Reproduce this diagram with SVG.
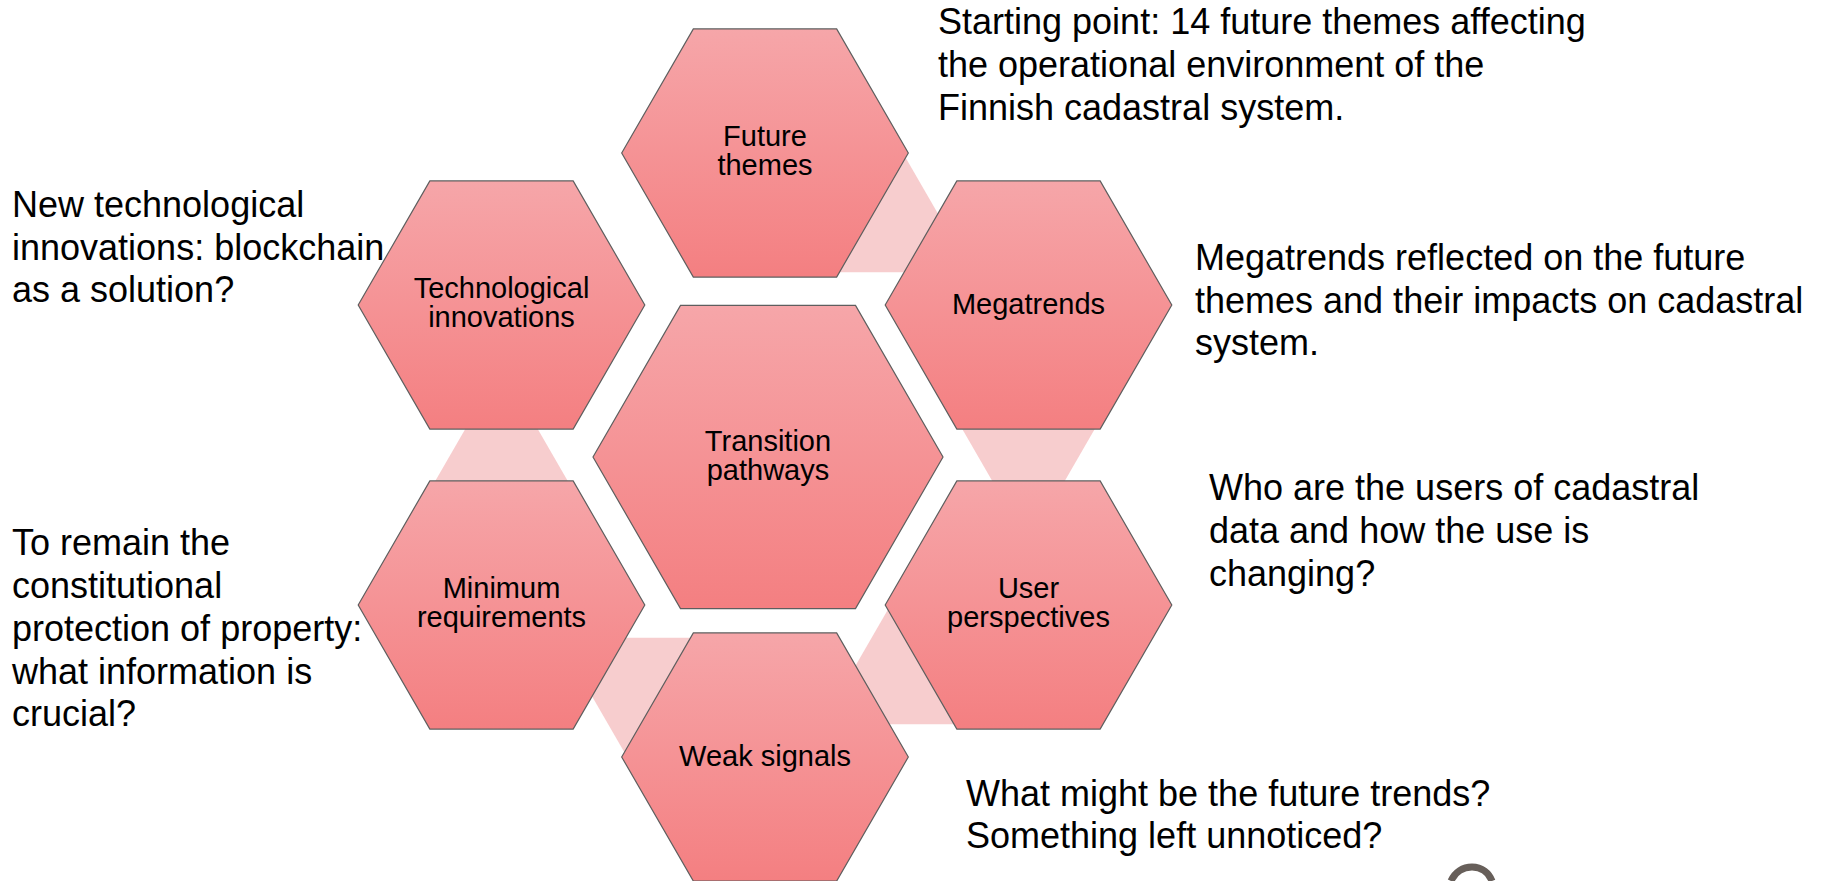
<svg xmlns="http://www.w3.org/2000/svg" xmlns:xlink="http://www.w3.org/1999/xlink" width="1823" height="881" viewBox="0 0 1823 881">
  <style>
    .hex { fill: url(#hexGrad); stroke: #5e5e5e; stroke-width: 1.2; }
    .link { fill: #f7cdce; stroke: none; }
    .lbl { font-family: "Liberation Sans", Arial, sans-serif; font-size: 29px; fill: #000; text-anchor: middle; }
    .note { font-family: "Liberation Sans", Arial, sans-serif; font-size: 36px; fill: #000; }
  </style>
  <defs>
    <linearGradient id="hexGrad" x1="0" y1="0" x2="0" y2="1">
      <stop offset="0" stop-color="#f6a6a9"/>
      <stop offset="1" stop-color="#f47f81"/>
    </linearGradient>
    <polygon id="hexS" points="-143.3,0 -71.65,-124.1 71.65,-124.1 143.3,0 71.65,124.1 -71.65,124.1"/>
    <polygon id="hexL" points="-175,0 -87.5,-151.55 87.5,-151.55 175,0 87.5,151.55 -87.5,151.55"/>
  </defs>
  <rect width="1823" height="881" fill="#ffffff"/>

  <g id="connectors">
    <polygon class="link" points="805.81,272.36 888.77,128.58 971.85,272.33"/>
    <polygon class="link" points="945.5,400 1111.5,400 1028.5,543.8"/>
    <polygon class="link" points="987.69,724.36 904.73,580.58 821.65,724.33"/>
    <polygon class="link" points="724.19,637.64 641.23,781.42 558.15,637.67"/>
    <polygon class="link" points="418.5,510 584.5,510 501.5,366.2"/>
  </g>

  <g id="node-future-themes">
    <use xlink:href="#hexS" href="#hexS" class="hex" transform="translate(765,153)"/>
    <text class="lbl" x="765" y="146">Future</text>
    <text class="lbl" x="765" y="175">themes</text>
  </g>
  <g id="node-megatrends">
    <use xlink:href="#hexS" href="#hexS" class="hex" transform="translate(1028.5,305)"/>
    <text class="lbl" x="1028.5" y="314">Megatrends</text>
  </g>
  <g id="node-user-perspectives">
    <use xlink:href="#hexS" href="#hexS" class="hex" transform="translate(1028.5,605)"/>
    <text class="lbl" x="1028.5" y="598">User</text>
    <text class="lbl" x="1028.5" y="627">perspectives</text>
  </g>
  <g id="node-weak-signals">
    <use xlink:href="#hexS" href="#hexS" class="hex" transform="translate(765,757)"/>
    <text class="lbl" x="765" y="766">Weak signals</text>
  </g>
  <g id="node-minimum-requirements">
    <use xlink:href="#hexS" href="#hexS" class="hex" transform="translate(501.5,605)"/>
    <text class="lbl" x="501.5" y="598">Minimum</text>
    <text class="lbl" x="501.5" y="627">requirements</text>
  </g>
  <g id="node-technological-innovations">
    <use xlink:href="#hexS" href="#hexS" class="hex" transform="translate(501.5,305)"/>
    <text class="lbl" x="501.5" y="298">Technological</text>
    <text class="lbl" x="501.5" y="327">innovations</text>
  </g>
  <g id="node-transition-pathways">
    <use xlink:href="#hexL" href="#hexL" class="hex" transform="translate(768,457)"/>
    <text class="lbl" x="768" y="451">Transition</text>
    <text class="lbl" x="768" y="480">pathways</text>
  </g>

  <g id="notes">
    <text class="note">
      <tspan x="938" y="34">Starting point: 14 future themes affecting</tspan>
      <tspan x="938" y="77">the operational environment of the</tspan>
      <tspan x="938" y="120">Finnish cadastral system.</tspan>
    </text>
    <text class="note">
      <tspan x="12" y="217">New technological</tspan>
      <tspan x="12" y="260">innovations: blockchain</tspan>
      <tspan x="12" y="302">as a solution?</tspan>
    </text>
    <text class="note">
      <tspan x="1195" y="270">Megatrends reflected on the future</tspan>
      <tspan x="1195" y="313">themes and their impacts on cadastral</tspan>
      <tspan x="1195" y="355">system.</tspan>
    </text>
    <text class="note">
      <tspan x="1209" y="500">Who are the users of cadastral</tspan>
      <tspan x="1209" y="543">data and how the use is</tspan>
      <tspan x="1209" y="586">changing?</tspan>
    </text>
    <text class="note">
      <tspan x="12" y="555">To remain the</tspan>
      <tspan x="12" y="598">constitutional</tspan>
      <tspan x="12" y="641">protection of property:</tspan>
      <tspan x="12" y="684">what information is</tspan>
      <tspan x="12" y="726">crucial?</tspan>
    </text>
    <text class="note">
      <tspan x="966" y="806">What might be the future trends?</tspan>
      <tspan x="966" y="848">Something left unnoticed?</tspan>
    </text>
  </g>

  <path d="M1451,881 C1455,872 1463,867 1472,867 C1482,867 1489,873 1492,881" fill="none" stroke="#675f5a" stroke-width="7"/>
</svg>
